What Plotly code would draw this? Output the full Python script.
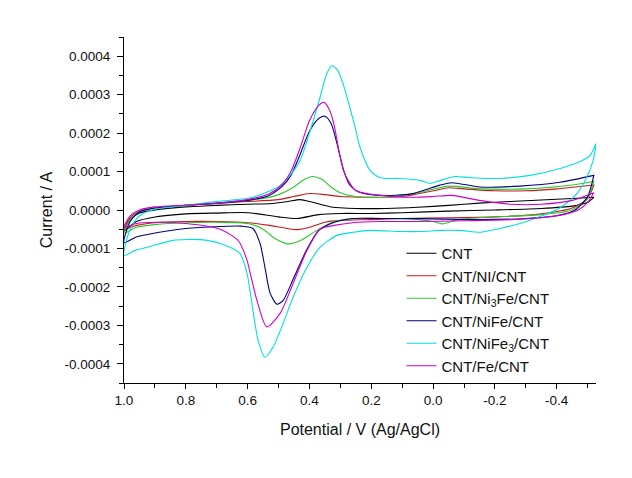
import plotly.graph_objects as go

# ---------------- data (potential in V, current in A) ----------------
names = ["CNT", "CNT/NI/CNT", "CNT/Ni<sub>3</sub>Fe/CNT", "CNT/NiFe/CNT",
         "CNT/NiFe<sub>3</sub>/CNT", "CNT/Fe/CNT"]
colors = ["#000000", "#c81818", "#2ec82e", "#000080", "#00e0e0", "#cc00cc"]

# CNT
cnt_up_v = [1.00, 0.98, 0.95, 0.90, 0.80, 0.70, 0.60, 0.52, 0.47, 0.43, 0.39, 0.33, 0.25, 0.15, 0.05, -0.05, -0.15, -0.25, -0.35, -0.45, -0.52]
cnt_up_i = [-0.55e-4, -0.25e-4, -0.08e-4, 0.0, 0.08e-4, 0.12e-4, 0.15e-4, 0.17e-4, 0.22e-4, 0.27e-4, 0.20e-4, 0.08e-4, 0.04e-4, 0.04e-4, 0.07e-4, 0.12e-4, 0.18e-4, 0.22e-4, 0.26e-4, 0.30e-4, 0.33e-4]
cnt_dn_v = [-0.52, -0.50, -0.45, -0.35, -0.20, -0.05, 0.10, 0.20, 0.30, 0.37, 0.44, 0.50, 0.60, 0.70, 0.80, 0.90, 0.96, 1.00]
cnt_dn_i = [0.33e-4, 0.20e-4, 0.10e-4, 0.04e-4, 0.0, -0.03e-4, -0.07e-4, -0.09e-4, -0.09e-4, -0.12e-4, -0.22e-4, -0.18e-4, -0.07e-4, -0.08e-4, -0.10e-4, -0.18e-4, -0.30e-4, -0.55e-4]

# CNT/NI/CNT
ni_up_v = [1.00, 0.98, 0.95, 0.90, 0.80, 0.70, 0.60, 0.50, 0.45, 0.40, 0.35, 0.30, 0.20, 0.10, 0.00, -0.05, -0.10, -0.20, -0.30, -0.40, -0.52]
ni_up_i = [-0.50e-4, -0.20e-4, -0.03e-4, 0.05e-4, 0.12e-4, 0.18e-4, 0.22e-4, 0.27e-4, 0.35e-4, 0.43e-4, 0.40e-4, 0.35e-4, 0.33e-4, 0.35e-4, 0.50e-4, 0.58e-4, 0.55e-4, 0.50e-4, 0.50e-4, 0.55e-4, 0.65e-4]
ni_dn_v = [-0.52, -0.50, -0.45, -0.35, -0.20, -0.05, 0.10, 0.20, 0.30, 0.35, 0.40, 0.44, 0.48, 0.53, 0.60, 0.70, 0.80, 0.90, 0.96, 1.00]
ni_dn_i = [0.65e-4, 0.30e-4, 0.05e-4, -0.10e-4, -0.18e-4, -0.20e-4, -0.22e-4, -0.25e-4, -0.27e-4, -0.32e-4, -0.45e-4, -0.51e-4, -0.47e-4, -0.40e-4, -0.33e-4, -0.30e-4, -0.30e-4, -0.33e-4, -0.40e-4, -0.50e-4]

# CNT/Ni3Fe/CNT
ni3fe_up_v = [1.00, 0.98, 0.95, 0.90, 0.80, 0.70, 0.60, 0.55, 0.50, 0.45, 0.42, 0.39, 0.36, 0.33, 0.30, 0.25, 0.15, 0.05, -0.05, -0.15, -0.30, -0.45, -0.52]
ni3fe_up_i = [-0.60e-4, -0.25e-4, -0.05e-4, 0.05e-4, 0.12e-4, 0.18e-4, 0.25e-4, 0.30e-4, 0.40e-4, 0.60e-4, 0.78e-4, 0.87e-4, 0.80e-4, 0.60e-4, 0.45e-4, 0.35e-4, 0.33e-4, 0.45e-4, 0.62e-4, 0.55e-4, 0.55e-4, 0.65e-4, 0.75e-4]
ni3fe_dn_v = [-0.52, -0.50, -0.45, -0.35, -0.20, -0.08, -0.03, 0.00, 0.05, 0.15, 0.25, 0.32, 0.38, 0.43, 0.47, 0.51, 0.55, 0.60, 0.70, 0.80, 0.90, 0.96, 1.00]
ni3fe_dn_i = [0.75e-4, 0.30e-4, 0.00, -0.12e-4, -0.18e-4, -0.25e-4, -0.36e-4, -0.30e-4, -0.25e-4, -0.22e-4, -0.22e-4, -0.30e-4, -0.55e-4, -0.80e-4, -0.88e-4, -0.75e-4, -0.50e-4, -0.35e-4, -0.32e-4, -0.33e-4, -0.38e-4, -0.45e-4, -0.60e-4]

# CNT/NiFe/CNT
nife_up_v = [1.00, 0.98, 0.95, 0.90, 0.80, 0.70, 0.60, 0.53, 0.49, 0.46, 0.43, 0.40, 0.37, 0.35, 0.33, 0.31, 0.29, 0.27, 0.24, 0.17, 0.07, -0.02, -0.06, -0.15, -0.28, -0.41, -0.52]
nife_up_i = [-0.85e-4, -0.30e-4, -0.05e-4, 0.05e-4, 0.12e-4, 0.17e-4, 0.25e-4, 0.38e-4, 0.60e-4, 0.90e-4, 1.45e-4, 2.05e-4, 2.38e-4, 2.44e-4, 2.25e-4, 1.70e-4, 1.05e-4, 0.65e-4, 0.47e-4, 0.38e-4, 0.42e-4, 0.64e-4, 0.71e-4, 0.60e-4, 0.62e-4, 0.72e-4, 0.90e-4]
nife_dn_v = [-0.52, -0.50, -0.46, -0.40, -0.30, -0.15, 0.00, 0.10, 0.17, 0.26, 0.33, 0.37, 0.41, 0.45, 0.485, 0.505, 0.527, 0.544, 0.56, 0.583, 0.62, 0.69, 0.80, 0.90, 0.96, 1.00]
nife_dn_i = [0.90e-4, 0.35e-4, 0.00, -0.15e-4, -0.22e-4, -0.25e-4, -0.23e-4, -0.22e-4, -0.22e-4, -0.22e-4, -0.35e-4, -0.53e-4, -1.05e-4, -1.75e-4, -2.35e-4, -2.45e-4, -2.17e-4, -1.49e-4, -0.87e-4, -0.48e-4, -0.42e-4, -0.43e-4, -0.48e-4, -0.60e-4, -0.70e-4, -0.85e-4]

# CNT/NiFe3/CNT
nife3_up_v = [1.00, 0.98, 0.95, 0.90, 0.80, 0.754, 0.70, 0.59, 0.527, 0.495, 0.463, 0.43, 0.398, 0.366, 0.346, 0.328, 0.31, 0.29, 0.269, 0.252, 0.236, 0.204, 0.171, 0.107, 0.042, 0.01, -0.023, -0.071, -0.12, -0.217, -0.314, -0.411, -0.476, -0.508, -0.527]
nife3_up_i = [-1.18e-4, -0.50e-4, -0.15e-4, 0.02e-4, 0.12e-4, 0.17e-4, 0.22e-4, 0.32e-4, 0.50e-4, 0.64e-4, 0.90e-4, 1.29e-4, 2.06e-4, 2.92e-4, 3.50e-4, 3.75e-4, 3.65e-4, 3.25e-4, 2.66e-4, 2.14e-4, 1.62e-4, 1.03e-4, 0.84e-4, 0.82e-4, 0.77e-4, 0.69e-4, 0.77e-4, 0.87e-4, 0.84e-4, 0.82e-4, 0.90e-4, 1.08e-4, 1.26e-4, 1.42e-4, 1.73e-4]
nife3_dn_v = [-0.527, -0.518, -0.492, -0.46, -0.411, -0.346, -0.282, -0.217, -0.152, -0.087, -0.023, 0.042, 0.107, 0.204, 0.259, 0.311, 0.366, 0.408, 0.453, 0.485, 0.518, 0.544, 0.566, 0.583, 0.602, 0.625, 0.689, 0.754, 0.841, 0.916, 0.964, 1.00]
nife3_dn_i = [1.73e-4, 1.29e-4, 0.77e-4, 0.38e-4, 0.06e-4, -0.17e-4, -0.35e-4, -0.48e-4, -0.58e-4, -0.53e-4, -0.53e-4, -0.56e-4, -0.56e-4, -0.53e-4, -0.58e-4, -0.66e-4, -0.97e-4, -1.49e-4, -2.27e-4, -2.95e-4, -3.57e-4, -3.83e-4, -3.39e-4, -2.61e-4, -1.65e-4, -1.13e-4, -0.87e-4, -0.77e-4, -0.79e-4, -0.95e-4, -1.05e-4, -1.18e-4]

# CNT/Fe/CNT
fe_up_v = [1.00, 0.98, 0.95, 0.90, 0.80, 0.70, 0.60, 0.53, 0.49, 0.46, 0.43, 0.40, 0.37, 0.353, 0.335, 0.32, 0.305, 0.29, 0.275, 0.25, 0.17, 0.07, 0.00, -0.06, -0.15, -0.25, -0.35, -0.45, -0.52]
fe_up_i = [-0.45e-4, -0.15e-4, 0.00, 0.08e-4, 0.13e-4, 0.18e-4, 0.27e-4, 0.42e-4, 0.65e-4, 1.00e-4, 1.62e-4, 2.32e-4, 2.72e-4, 2.80e-4, 2.60e-4, 2.20e-4, 1.55e-4, 1.03e-4, 0.77e-4, 0.50e-4, 0.38e-4, 0.33e-4, 0.35e-4, 0.38e-4, 0.25e-4, 0.15e-4, 0.15e-4, 0.25e-4, 0.45e-4]
fe_dn_v = [-0.52, -0.50, -0.47, -0.42, -0.35, -0.25, -0.10, 0.05, 0.17, 0.26, 0.32, 0.366, 0.408, 0.453, 0.495, 0.538, 0.57, 0.59, 0.602, 0.63, 0.689, 0.80, 0.90, 0.96, 1.00]
fe_dn_i = [0.45e-4, 0.20e-4, 0.00, -0.12e-4, -0.20e-4, -0.25e-4, -0.28e-4, -0.30e-4, -0.30e-4, -0.33e-4, -0.40e-4, -0.50e-4, -1.05e-4, -1.91e-4, -2.69e-4, -3.04e-4, -2.35e-4, -1.70e-4, -1.31e-4, -0.80e-4, -0.50e-4, -0.35e-4, -0.32e-4, -0.35e-4, -0.45e-4]

x_tick_vals = [1.0, 0.8, 0.6, 0.4, 0.2, 0.0, -0.2, -0.4]
x_tick_text = ["1.0", "0.8", "0.6", "0.4", "0.2", "0.0", "-0.2", "-0.4"]
y_tick_vals = [0.0004, 0.0003, 0.0002, 0.0001, 0.0, -0.0001, -0.0002, -0.0003, -0.0004]
y_tick_text = ["0.0004", "0.0003", "0.0002", "0.0001", "0.0000",
               "-0.0001", "-0.0002", "-0.0003", "-0.0004"]

series = [
    (cnt_up_v + cnt_dn_v, cnt_up_i + cnt_dn_i),
    (ni_up_v + ni_dn_v, ni_up_i + ni_dn_i),
    (ni3fe_up_v + ni3fe_dn_v, ni3fe_up_i + ni3fe_dn_i),
    (nife_up_v + nife_dn_v, nife_up_i + nife_dn_i),
    (nife3_up_v + nife3_dn_v, nife3_up_i + nife3_dn_i),
    (fe_up_v + fe_dn_v, fe_up_i + fe_dn_i),
]

fig = go.Figure()
for (xs, ys), nm, col in zip(series, names, colors):
    fig.add_trace(go.Scatter(
        x=xs, y=ys, mode="lines", name=nm,
        line=dict(color=col, width=1.1, shape="spline", smoothing=0.7),
    ))

FONT = "Arial, 'Liberation Sans', sans-serif"
fig.update_layout(
    width=632, height=478,
    margin=dict(l=116, r=44, t=29, b=103),
    paper_bgcolor="white", plot_bgcolor="white",
    font=dict(family=FONT, color="#111111", size=13),
    showlegend=True,
    legend=dict(
        x=0.588, y=0.422, xanchor="left", yanchor="top",
        bgcolor="rgba(0,0,0,0)", borderwidth=0,
        font=dict(family=FONT, size=15, color="#111111"),
        tracegroupgap=0,
    ),
)
fig.update_xaxes(
    range=[1.0, -0.527], showgrid=False, zeroline=False,
    showline=True, linecolor="black", linewidth=1, mirror=False,
    ticks="outside", ticklen=5, tickcolor="black",
    tickvals=x_tick_vals, ticktext=x_tick_text,
    minor=dict(ticks="outside", ticklen=4, dtick=0.1, tick0=0, tickcolor="black"),
    tickfont=dict(size=13.5),
    title=dict(text="Potential / V (Ag/AgCl)", font=dict(size=16), standoff=16),
)
fig.update_yaxes(
    range=[-0.00045, 0.00045], showgrid=False, zeroline=False,
    showline=True, linecolor="black", linewidth=1, mirror=False,
    ticks="outside", ticklen=6, tickcolor="black",
    tickvals=y_tick_vals, ticktext=y_tick_text,
    minor=dict(ticks="outside", ticklen=4, dtick=0.00005, tick0=0, tickcolor="black"),
    tickfont=dict(size=13.5), ticklabelstandoff=4,
    title=dict(text="Current / A", font=dict(size=16), standoff=7),
)

fig.write_html("out.html")
